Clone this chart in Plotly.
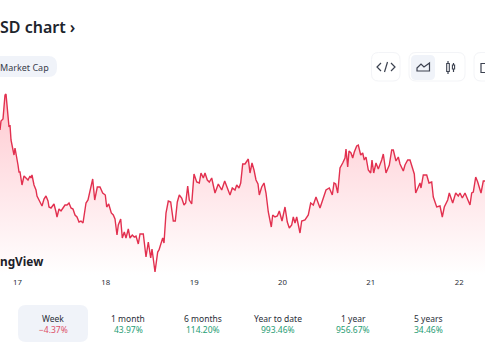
import plotly.graph_objects as go

W, H = 485, 360

# time index along the x axis, and the price level at each of those times
time_steps = [
    0, 1, 3, 4, 5, 6, 7, 8, 9, 10, 11, 13, 14, 15, 16, 18, 19, 20, 22, 23,
    24, 26, 28, 30, 31, 32, 33, 34, 36, 37, 39, 41, 42, 44, 46, 48, 49, 51, 53, 54,
    56, 57, 59, 61, 63, 65, 67, 69, 71, 73, 75, 77, 79, 81, 83, 84, 86, 88, 90, 92.7,
    94.7, 97.3, 100, 102.7, 105.3, 106.7, 108.7, 111.3, 113.3, 115, 117, 118.3, 120.7, 122.3, 124.3, 126, 128.3, 130, 132.3, 134.3,
    136, 138.3, 140, 143.3, 146, 148.3, 150.7, 152, 155, 157.7, 159, 160.7, 162.7, 164, 166, 168.3, 170.7, 173.3, 175.3, 177.3,
    179.3, 181.7, 184, 185.7, 187.7, 189.3, 191.7, 194, 196.7, 199.3, 201, 203.3, 205, 207.3, 209.3, 211.7, 215, 218.3, 221.7, 224.7,
    227.3, 230, 232.3, 235, 236.7, 239, 240.7, 242.7, 245, 248.3, 250, 252, 254, 256, 258, 259.3, 261.7, 264, 266, 268.3,
    271.3, 272.7, 275, 277.3, 279.3, 282, 285, 287.3, 289.3, 291.7, 293.3, 295, 296.7, 300, 301.7, 305, 308.3, 310.7, 313.3, 316,
    320, 322.7, 326, 329.3, 332.3, 334, 335.7, 337.7, 340, 342.7, 345, 346, 347.7, 349, 351, 352.7, 354.3, 356.7, 358.3, 360.7,
    362.7, 364.3, 366, 368.3, 370.7, 372, 373.7, 376, 378.3, 381.7, 383.3, 386, 389.3, 391.7, 393.3, 396, 398.3, 400, 403.3, 405,
    407.7, 410, 412.3, 414.3, 415.7, 417.7, 420, 421, 423.3, 426.7, 429, 431.7, 433.3, 436.7, 440, 442.3, 444.3, 447.7, 449.3, 452.7,
    455.7, 458.3, 460, 462.3, 465, 470, 471.7, 473.3, 475.7, 477.7, 481, 483.3, 485,
]
price = [
    170, 179, 181, 192, 205, 206, 197, 182, 173, 175, 160, 150, 145, 152, 147, 135, 128, 128, 115, 122,
    124, 122, 120, 124, 122, 125, 120, 115, 110, 104, 100, 95, 94, 101, 104, 99, 93, 92, 94, 96,
    88, 83, 91, 89, 92, 95, 95, 97, 92, 91, 85, 83, 78, 79, 77, 85, 97, 100, 110, 121,
    100, 113, 113, 107, 105, 93, 96, 87, 85, 81, 65, 75, 81, 62, 68, 62, 71, 62, 65, 63,
    64, 56, 66, 66, 43, 58, 42, 51, 28, 48, 50, 56, 62, 57, 87, 99, 98, 79, 79, 98,
    105, 102, 95, 97, 114, 100, 96, 126, 118, 117, 127, 122, 127, 120, 118, 122, 107, 116, 110, 119,
    112, 105, 112, 110, 115, 112, 117, 136, 136, 141, 127, 137, 130, 120, 116, 105, 113, 117, 107, 88,
    73, 85, 83, 84, 89, 79, 93, 78, 72, 75, 83, 77, 83, 67, 79, 80, 85, 97, 95, 103,
    92, 100, 110, 112, 105, 117, 116, 107, 132, 137, 142, 151, 133, 149, 147, 142, 148, 154, 155, 145,
    147, 140, 143, 130, 127, 140, 127, 137, 131, 140, 146, 127, 135, 150, 150, 139, 143, 136, 129, 135,
    140, 140, 133, 126, 107, 112, 117, 112, 125, 125, 117, 118, 103, 93, 94, 83, 93, 100, 107, 97,
    107, 104, 107, 102, 107, 95, 107, 108, 123, 118, 107, 119, 119,
]
assert len(time_steps) == len(price)

tick_steps = [17.5, 105.8, 194.2, 282.5, 370.8, 459.2]
tick_labels = ["17", "18", "19", "20", "21", "22"]

period_names = ["Week", "1 month", "6 months", "Year to date", "1 year", "5 years"]
period_changes = ["\u22124.37%", "43.97%", "114.20%", "993.46%", "956.67%", "34.46%"]
period_centers = [53, 128, 203, 278, 353, 428]
period_colors = ["#dd5068", "#1f9d74", "#1f9d74", "#1f9d74", "#1f9d74", "#1f9d74"]

FONT = "Noto Sans"
INK = "#20242c"
LINE = "#e2304f"
CHIP = "#f0f3f9"
BORDER = "#f3f4f7"


def px(x):
    return x / W


def py(y):
    return 1 - y / H


def rrect(x0, y0, x1, y1, r):
    X0, X1, Y0, Y1 = px(x0), px(x1), py(y0), py(y1)
    rx, ry = r / W, r / H
    return (f"M{X0+rx},{Y0} L{X1-rx},{Y0} Q{X1},{Y0} {X1},{Y0-ry} "
            f"L{X1},{Y1+ry} Q{X1},{Y1} {X1-rx},{Y1} L{X0+rx},{Y1} "
            f"Q{X0},{Y1} {X0},{Y1+ry} L{X0},{Y0-ry} Q{X0},{Y0} {X0+rx},{Y0} Z")


def box(x0, y0, x1, y1, r, fill=None, stroke=None):
    return dict(type="path", xref="paper", yref="paper", path=rrect(x0, y0, x1, y1, r),
                fillcolor=fill or "rgba(0,0,0,0)",
                line=dict(color=stroke or "rgba(0,0,0,0)", width=1), layer="below")


def icon(points, color="#3c4250", width=1.2, close=False):
    d = "M" + " L".join(f"{px(a)},{py(b)}" for a, b in points) + (" Z" if close else "")
    return dict(type="path", xref="paper", yref="paper", path=d,
                line=dict(color=color, width=width), layer="above")


shapes = [
    box(-20, 56, 57, 77, 9, fill=CHIP),
    box(371.5, 52.5, 400, 81, 7, stroke=BORDER),
    box(409, 52.5, 465, 81, 7, stroke=BORDER),
    box(411, 55, 435, 80, 5, fill=CHIP),
    box(474, 52.5, 520, 81, 7, stroke=BORDER),
    box(18, 305, 88, 342, 8, fill=CHIP),
    # </> icon
    icon([(381, 63), (377, 67), (381, 71)]),
    icon([(391, 63), (395, 67), (391, 71)]),
    icon([(387.5, 62), (384.5, 72)]),
    # area icon
    icon([(417, 68), (421, 64), (424, 67), (429.5, 63), (429.5, 71), (417, 71)], close=True),
    # candle icon
    icon([(448, 61), (448, 74)]),
    icon([(453.5, 63), (453.5, 72)]),
    dict(type="rect", xref="paper", yref="paper", x0=px(446.7), x1=px(449.3), y0=py(63.5), y1=py(71.5),
         fillcolor="white", line=dict(color="#3c4250", width=1.1), layer="above"),
    dict(type="rect", xref="paper", yref="paper", x0=px(452.4), x1=px(454.6), y0=py(65), y1=py(69),
         fillcolor="white", line=dict(color="#3c4250", width=1.1), layer="above"),
    # clipped third button icon
    icon([(485, 63.5), (481, 63.5), (481, 72.5), (485, 72.5)]),
]


def label(x, y, text, size, color=INK, anchor="center", weight=400):
    return dict(xref="paper", yref="paper", x=px(x), y=py(y), text=text, showarrow=False,
                xanchor=anchor, yanchor="middle", align="center",
                font=dict(family=FONT, size=size, color=color, weight=weight))


annotations = [
    label(-2, 27, "SD chart \u203a", 16, anchor="left", weight=600),
    label(-2, 67, "Market Cap", 9, color="#3a404c", anchor="left", weight=400),
    label(-2, 261, "ngView", 11.8, color="#1c2028", anchor="left", weight=700),
]
for c, n, p, col in zip(period_centers, period_names, period_changes, period_colors):
    annotations.append(label(c, 318, n, 8.5, color="#2a2e38"))
    annotations.append(label(c, 329.5, p, 8.5, color=col))

fig = go.Figure(go.Scatter(
    x=time_steps, y=price, mode="lines",
    line=dict(color=LINE, width=1.4),
    fill="tozeroy",
    fillgradient=dict(type="vertical", start=25, stop=210,
                      colorscale=[[0, "rgba(255,255,255,1)"], [1, "rgba(255,200,207,1)"]]),
    hoverinfo="skip",
))

fig.update_layout(
    width=W, height=H, margin=dict(l=0, r=0, t=0, b=0),
    paper_bgcolor="white", plot_bgcolor="white", showlegend=False,
    shapes=shapes, annotations=annotations,
    xaxis=dict(range=[0, W], tickmode="array", tickvals=tick_steps, ticktext=tick_labels,
               showgrid=False, zeroline=False, showline=False, ticks="", ticklabelstandoff=1,
               tickfont=dict(family=FONT, size=7.8, color="#2a2e38"), fixedrange=True),
    yaxis=dict(range=[25, 300], domain=[(H - 275) / H, 1], visible=False, fixedrange=True),
)

fig.write_html("out.html", config={"displayModeBar": False},
               post_script="document.body.style.margin='0';document.documentElement.style.overflow='hidden';")
